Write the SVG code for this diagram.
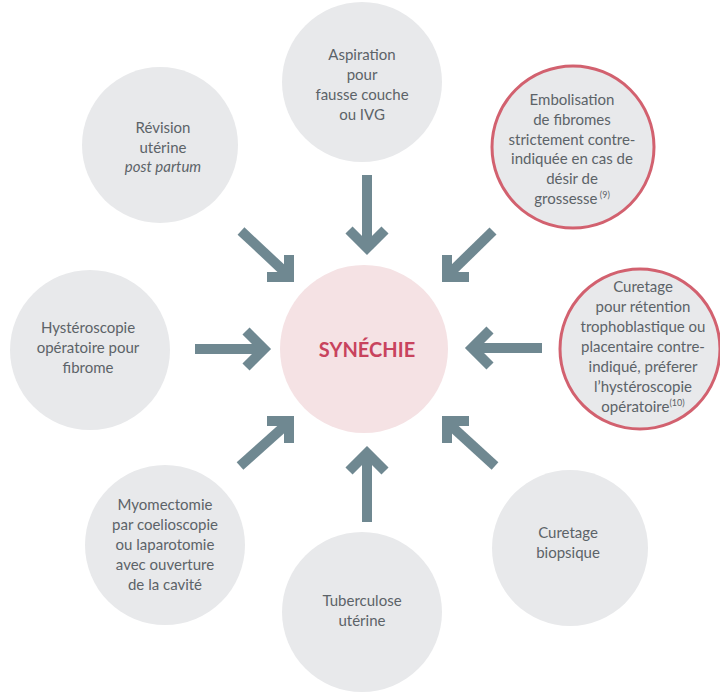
<svg xmlns="http://www.w3.org/2000/svg" width="720" height="692" viewBox="0 0 720 692">
  <style>
    .node { fill: #e8e9eb; }
    .warn { fill: #e8e9eb; stroke: #d2616f; stroke-width: 3; }
    .core { fill: #f5e2e4; }
    .lbl { font-family: "Lato", "Open Sans", sans-serif; font-size: 15px; fill: #5c6368; text-anchor: middle; }
    .sup { font-size: 9px; }
    .title { font-family: "Lato", "Open Sans", sans-serif; font-size: 20px; font-weight: bold; fill: #c8435d; text-anchor: middle; }
    .arrow { fill: none; stroke: #6f8891; stroke-width: 10; stroke-linejoin: miter; stroke-linecap: butt; }
  </style>

  <!-- causes around the central condition -->
  <g id="aspiration">
    <circle class="node" cx="362" cy="82" r="80"/>
    <text class="lbl" x="362"><tspan x="362" y="60">Aspiration</tspan><tspan x="362" y="80">pour</tspan><tspan x="362" y="100">fausse couche</tspan><tspan x="362" y="120">ou IVG</tspan></text>
  </g>

  <g id="revision">
    <circle class="node" cx="160" cy="145" r="78"/>
    <text class="lbl"><tspan x="163" y="133">Révision</tspan><tspan x="163" y="153">utérine</tspan><tspan x="163" y="172" font-style="italic">post partum</tspan></text>
  </g>

  <g id="embolisation">
    <circle class="warn" cx="573" cy="147" r="81"/>
    <text class="lbl"><tspan x="572" y="105">Embolisation</tspan><tspan x="572" y="125">de fibromes</tspan><tspan x="572" y="145">strictement contre-</tspan><tspan x="572" y="164">indiquée en cas de</tspan><tspan x="572" y="184">désir de</tspan><tspan x="572" y="204">grossesse<tspan class="sup" dy="-6"> (9)</tspan></tspan></text>
  </g>

  <g id="hysteroscopie">
    <circle class="node" cx="90" cy="350" r="80"/>
    <text class="lbl"><tspan x="88" y="333">Hystéroscopie</tspan><tspan x="88" y="353">opératoire pour</tspan><tspan x="88" y="373">fibrome</tspan></text>
  </g>

  <g id="curetage-retention">
    <circle class="warn" cx="640" cy="349" r="80"/>
    <text class="lbl"><tspan x="643" y="292">Curetage</tspan><tspan x="643" y="312">pour rétention</tspan><tspan x="643" y="332">trophoblastique ou</tspan><tspan x="643" y="352">placentaire contre-</tspan><tspan x="643" y="372">indiqué, préferer</tspan><tspan x="643" y="392">l’hystéroscopie</tspan><tspan x="643" y="412">opératoire<tspan class="sup" dy="-6">(10)</tspan></tspan></text>
  </g>

  <g id="myomectomie">
    <circle class="node" cx="165" cy="545" r="80"/>
    <text class="lbl"><tspan x="165" y="510">Myomectomie</tspan><tspan x="165" y="530">par coelioscopie</tspan><tspan x="165" y="550">ou laparotomie</tspan><tspan x="165" y="570">avec ouverture</tspan><tspan x="165" y="590">de la cavité</tspan></text>
  </g>

  <g id="tuberculose">
    <circle class="node" cx="362" cy="612" r="80"/>
    <text class="lbl"><tspan x="362" y="606">Tuberculose</tspan><tspan x="362" y="626">utérine</tspan></text>
  </g>

  <g id="curetage-biopsique">
    <circle class="node" cx="570" cy="548" r="78"/>
    <text class="lbl"><tspan x="568" y="538">Curetage</tspan><tspan x="568" y="558">biopsique</tspan></text>
  </g>

  <!-- central condition -->
  <g id="synechie">
    <circle class="core" cx="364" cy="349" r="84"/>
    <text class="title" x="367" y="357">SYNÉCHIE</text>
  </g>

  <!-- arrows pointing inward -->
  <g id="connectors" class="arrow">
    <path d="M367,175 L367,246"/><path d="M349,230 L367,248 L385,230"/>
    <path d="M241,231 L287,274"/><path d="M267,277 L289,277 L289,255"/>
    <path d="M493,231 L449,274"/><path d="M469,277 L447,277 L447,255"/>
    <path d="M195,349 L262,349"/><path d="M246,331 L264,349 L246,367"/>
    <path d="M542,348 L474,348"/><path d="M490,330 L472,348 L490,366"/>
    <path d="M240,466 L287,424"/><path d="M267,421 L289,421 L289,443"/>
    <path d="M367,522 L367,455"/><path d="M349,471 L367,453 L385,471"/>
    <path d="M495,466 L449,424"/><path d="M469,421 L447,421 L447,443"/>
  </g>
</svg>
